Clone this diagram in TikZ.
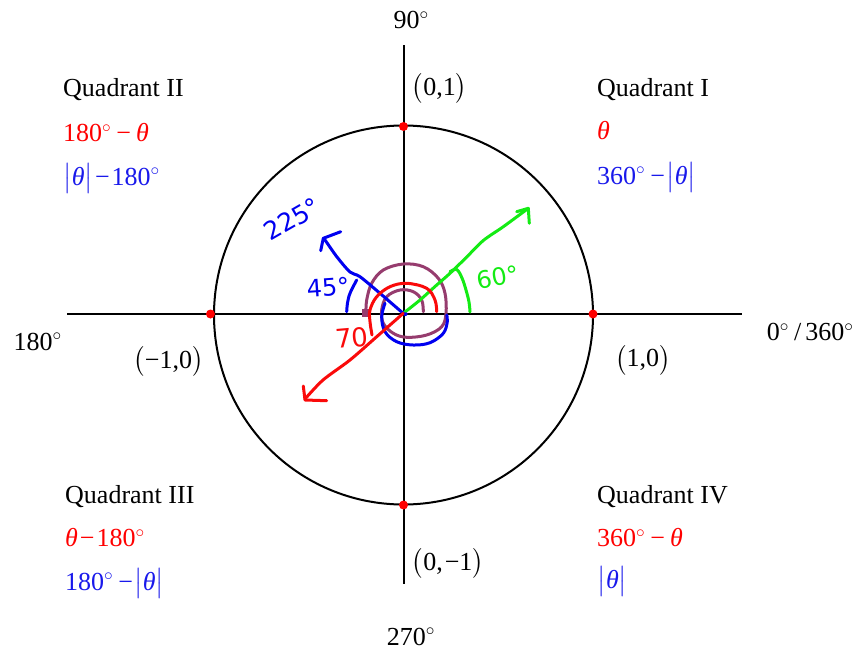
\documentclass[tikz,border=0pt]{standalone}
\usepackage{amsmath}
\usepackage{fontspec}
\setmainfont{Liberation Serif}
\newfontfamily\handfont{DejaVu Sans}
\definecolor{qred}{RGB}{255,0,0}
\definecolor{qblue}{RGB}{25,25,235}
\definecolor{hgreen}{RGB}{20,235,20}
\definecolor{hblue}{RGB}{0,0,240}
\definecolor{hred}{RGB}{250,10,10}
\definecolor{hpurple}{RGB}{150,60,110}
\newcommand{\dg}{$^{\circ}$}
\newcommand{\thv}{\textit{θ}}
\newcommand{\absth}{$\bigl|$\hspace{0.5pt}\textit{θ}$\bigr|$}
\newcommand{\mns}{\hspace{2pt}−\hspace{2pt}}
\begin{document}
\begin{tikzpicture}[x=1pt,y=-1pt,
  lbl/.style={font=\fontsize{26}{31}\selectfont, inner sep=0pt, anchor=base west},
  axis/.style={line width=2pt},
  hand/.style={line width=3pt, line cap=round, line join=round},
  reddot/.style={circle, fill=red, inner sep=0pt, minimum size=9pt},
  handtxt/.style={font=\handfont\fontsize{24}{28}\selectfont, inner sep=0pt}]
\useasboundingbox (0,0) rectangle (859,651);
% axes and circle
\coordinate (O) at (403.5,314);
\coordinate (xl) at (67,314);
\coordinate (xr) at (742,314);
\coordinate (yt) at (403.5,45);
\coordinate (yb) at (403.5,584);
\draw[axis] (xl) -- (xr);
\draw[axis] (yt) -- (yb);
\draw[axis] (403.5,315) circle[radius=189.5pt];
\node[reddot] (d1) at (403.5,126.5) {};
\node[reddot] (d2) at (210.5,314) {};
\node[reddot] (d3) at (593,314) {};
\node[reddot] (d4) at (403.5,505) {};
% axis labels
\node[lbl] (a90) at (393.3,28.3) {90\dg};
\node[lbl] (a270) at (386.7,645) {270\dg};
\node[lbl] (a180) at (13.3,350) {180\dg};
\node[lbl] (a0) at (766.7,340.7) {0\dg\hspace{5pt}/\hspace{4pt}360\dg};
\node[lbl] (p01) at (411.7,95) {$\bigl($0,1$\bigr)$};
\node[lbl] (pm10) at (133.3,368) {$\bigl($−1,0$\bigr)$};
\node[lbl] (p10) at (615,366.7) {$\bigl($1,0$\bigr)$};
\node[lbl] (p0m1) at (411.7,570) {$\bigl($0,\hspace{2pt}−1$\bigr)$};
% quadrant labels
\node[lbl] (q2t) at (63,96) {Quadrant II};
\node[lbl,text=qred] (q2a) at (63,141.5) {180\dg\hspace{5pt}−\hspace{5pt}\thv};
\node[lbl,text=qblue] (q2b) at (63,185) {\absth\mns180\dg};
\node[lbl] (q1t) at (597,96) {Quadrant I};
\node[lbl,text=qred] (q1a) at (597,139) {\thv};
\node[lbl,text=qblue] (q1b) at (597,184) {360\dg\hspace{5pt}−\hspace{1pt}\absth};
\node[lbl] (q3t) at (65,503.3) {Quadrant III};
\node[lbl,text=qred] (q3a) at (65,546.7) {\thv\mns180\dg};
\node[lbl,text=qblue] (q3b) at (65,590) {180\dg\hspace{5pt}−\hspace{1pt}\absth};
\node[lbl] (q4t) at (597,503.3) {Quadrant IV};
\node[lbl,text=qred] (q4a) at (597,546.7) {360\dg\hspace{5pt}−\hspace{5pt}\thv};
\node[lbl,text=qblue] (q4b) at (597,588) {\absth};
% handwritten: purple spiral
\draw[hand,hpurple] plot[smooth,tension=0.6] coordinates {(366,312.7) (366.7,300) (371.7,283.3) (383.3,270) (403.3,264) (423.3,266.7) (438.3,278.3) (445,293.3) (446,313.3) (441.7,326.7) (426.7,335) (406.7,337.3) (393.3,333.3) (383.3,323.3) (381.7,310) (386.7,296.7) (400,290) (413.3,291.7) (421.7,300) (423.3,311.7)};
\fill[hpurple] (362,309) rectangle (370,317);
% green
\draw[hand,hgreen] plot[smooth,tension=0.5] coordinates {(403.3,313.3) (420,300) (436.7,285) (450,273.3) (466.7,257) (483.3,240.5) (503.3,226.7) (526.7,209.5)};
\draw[hand,hgreen] (516.7,211.7) -- (528.3,208.3) -- (529.3,223.3);
\draw[hand,hgreen] plot[smooth,tension=0.6] coordinates {(450,271.7) (456.7,269.5) (462,278) (466,290) (469,302) (470,312)};
\node[handtxt,text=hgreen,rotate=10] (t60) at (498,277) {60°};
% blue
\draw[hand,hblue] plot[smooth,tension=0.5] coordinates {(406,313.5) (403.3,313.3) (380,293.3) (360,276.7) (350,272) (337,257) (325,240) (323.3,238.3)};
\draw[hand,hblue] (320.7,250.7) -- (323.3,238.3) -- (340.7,231.7);
\draw[hand,hblue] plot[smooth,tension=0.6] coordinates {(356.7,280) (350,293.3) (347.5,303) (346.7,311.7)};
\draw[hand,hblue] plot[smooth,tension=0.6] coordinates {(385,303.3) (381.7,316.7) (385,331.7) (396.7,341.7) (413.3,345) (430,342.7) (443.3,333.3) (447.3,321.7) (446.7,315)};
\node[handtxt,text=hblue,rotate=4] (t45) at (328,287) {45°};
\node[handtxt,text=hblue,rotate=30,font=\handfont\fontsize{25}{28}\selectfont] (t225) at (292,219) {225°};
% red
\draw[hand,hred] plot[smooth,tension=0.5] coordinates {(403.3,313.3) (376.7,336.7) (350,360) (323,380) (305,399)};
\draw[hand,hred] (303.3,386) -- (305,400) -- (326.7,400.7);
\draw[hand,hred] plot[smooth,tension=0.6] coordinates {(436.7,311.7) (435,300) (426.7,288.3) (406.7,283.3) (390,286.7) (376.7,296.7) (370,310) (370,321.7) (372,335)};
\node[handtxt,text=hred,rotate=5,font=\handfont\fontsize{26}{28}\selectfont] (t70) at (352,338) {70};
\end{tikzpicture}
\end{document}
